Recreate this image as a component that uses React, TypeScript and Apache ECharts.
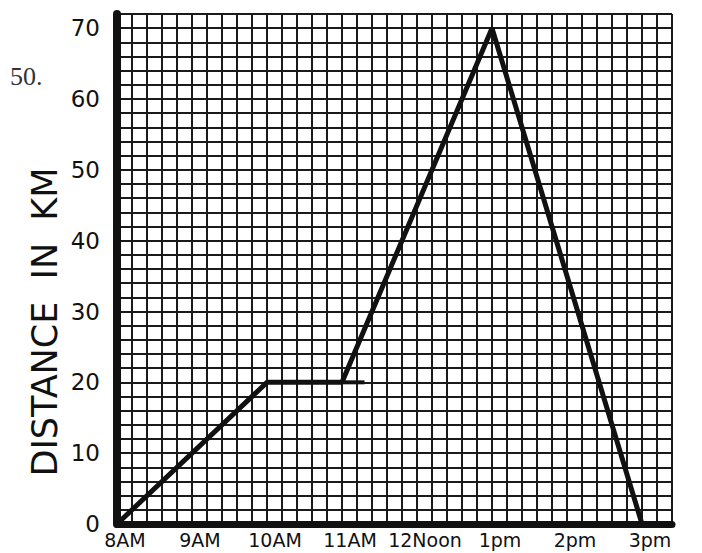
import React, { useEffect, useRef } from "react";
import * as echarts from "echarts";

// Time axis: minutes after 8AM
const timeLabels = ["8AM", "9AM", "10AM", "11AM", "12Noon", "1pm", "2pm", "3pm"];
const journeyMinutes = [0, 120, 180, 300, 420];
const journeyKm = [0, 20, 20, 70, 0];
// short hand-drawn overshoot past the 11AM corner
const overshootMinutes = [180, 198];
const overshootKm = [20, 20];
const yLabelStep = 10;

export default function App() {
  const ref = useRef<HTMLDivElement>(null);
  useEffect(() => {
    if (!ref.current) return;
    const chart = echarts.init(ref.current, undefined, { renderer: "svg" });
    const ink = "#111";
    const labelFont = "DejaVu Sans";
    chart.setOption({
      animation: false,
      backgroundColor: "#fff",
      grid: { left: 117, top: 14, width: 555, height: 510 },
      xAxis: {
        type: "value",
        min: 0,
        max: 444,
        interval: 12,
        axisLine: { show: true, onZero: false, lineStyle: { color: ink, width: 7 } },
        axisTick: { show: false },
        splitLine: { show: true, lineStyle: { color: "#1a1a1a", width: 2 } },
        axisLabel: {
          color: ink,
          fontFamily: labelFont,
          fontSize: 19,
          margin: 6,
          padding: [0, 0, 0, 16],
          formatter: (v: number) => {
            const r = Math.round(v);
            return r % 60 === 0 && timeLabels[r / 60] !== undefined ? timeLabels[r / 60] : "";
          },
        },
      },
      yAxis: {
        type: "value",
        min: 0,
        max: 72,
        interval: 2,
        axisLine: { show: true, onZero: false, lineStyle: { color: ink, width: 8 } },
        axisTick: { show: false },
        splitLine: { show: true, lineStyle: { color: "#1a1a1a", width: 2 } },
        axisLabel: {
          color: ink,
          fontFamily: labelFont,
          fontSize: 23,
          margin: 17,
          formatter: (v: number) => (Math.round(v) % yLabelStep === 0 ? String(Math.round(v)) : ""),
        },
      },
      series: [
        {
          type: "line",
          data: journeyMinutes.map((m, i) => [m, journeyKm[i]]),
          showSymbol: false,
          lineStyle: { color: ink, width: 5 },
          z: 5,
        },
        {
          type: "line",
          data: overshootMinutes.map((m, i) => [m, overshootKm[i]]),
          showSymbol: false,
          lineStyle: { color: ink, width: 4 },
          z: 5,
        },
      ],
      graphic: [
        {
          type: "text",
          x: 10,
          y: 76,
          style: {
            text: "50.",
            font: "26px 'Liberation Serif'",
            fill: "#333",
            verticalAlign: "middle",
          },
        },
        {
          type: "text",
          x: 45,
          y: 322,
          rotation: Math.PI / 2,
          style: {
            text: "DISTANCE  IN  KM",
            font: "35px 'DejaVu Sans'",
            fill: ink,
            align: "center",
            verticalAlign: "middle",
          },
        },
      ],
    });
    return () => chart.dispose();
  }, []);
  return (
    <div
      ref={ref}
      style={{ position: "absolute", left: 0, top: 0, width: 702, height: 553 }}
    />
  );
}
